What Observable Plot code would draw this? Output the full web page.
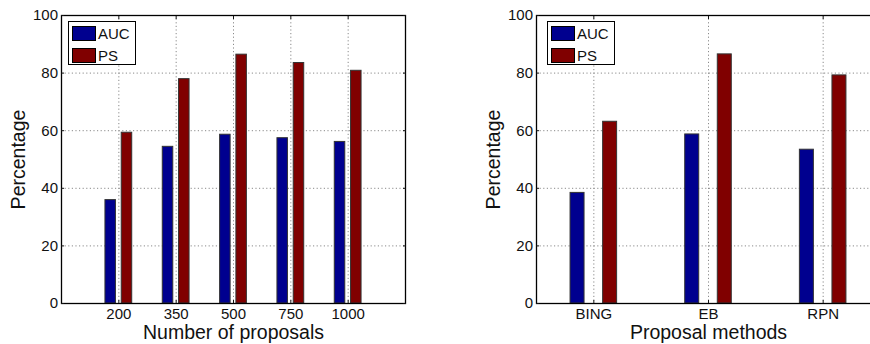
<!DOCTYPE html>
<html>
<head>
<meta charset="utf-8">
<script src="https://cdn.jsdelivr.net/npm/d3@7"></script>
<script src="https://cdn.jsdelivr.net/npm/@observablehq/plot@0.6"></script>
<style>
  html, body { margin: 0; padding: 0; background: #fff; }
  #wrap { position: relative; width: 870px; height: 344px; overflow: hidden; font-family: "Liberation Sans", Arial, Helvetica, sans-serif; }
  .panel { position: absolute; top: 0; }
  .legend { position: absolute; border: 1.2px solid #000; background: #fff; box-sizing: border-box; font-size: 15px; color: #111; }
  .legend .row { position: absolute; left: 3px; height: 15px; display: flex; align-items: center; }
  .legend .sw { width: 22px; height: 13px; border: 1px solid #000; margin-right: 2px; }
</style>
</head>
<body>
<div id="wrap"></div>
<script>
// ---- data ----
const seriesNames = ["AUC", "PS"];
const seriesColors = ["#00008F", "#800000"];

const proposalCounts = ["200", "350", "500", "750", "1000"];
const aucByCount = [35.9, 54.4, 58.6, 57.4, 56.1];
const psByCount = [59.3, 77.9, 86.4, 83.5, 80.8];

const methods = ["BING", "EB", "RPN"];
const aucByMethod = [38.4, 58.7, 53.4];
const psByMethod = [63.1, 86.5, 79.2];

const yTicks = [0, 20, 40, 60, 80, 100];

function makePanel(cfg) {
  const idx = cfg.cats.map((_, i) => i + 1);
  const rows = [];
  cfg.cats.forEach((c, i) => {
    rows.push({i: i + 1, s: 0, v: cfg.auc[i]});
    rows.push({i: i + 1, s: 1, v: cfg.ps[i]});
  });
  const off = cfg.offset, hw = cfg.barWidth / 2;
  const font = "Liberation Sans, Arial, Helvetica, sans-serif";
  return Plot.plot({
    width: cfg.width,
    height: 344,
    marginLeft: cfg.ml,
    marginRight: cfg.mr,
    marginTop: 15,
    marginBottom: 41,
    style: {fontFamily: font, color: "#111", background: "transparent", overflow: "visible"},
    x: {type: "linear", domain: cfg.xDomain},
    y: {domain: [0, 100]},
    color: {domain: [0, 1], range: seriesColors},
    marks: [
      Plot.ruleX(idx, {x: d => d, stroke: "#8a8a8a", strokeWidth: 1, strokeDasharray: "1.2,2.4"}),
      Plot.ruleY([20, 40, 60, 80], {y: d => d, stroke: "#8a8a8a", strokeWidth: 1, strokeDasharray: "1.2,2.4"}),
      Plot.rectY(rows, {
        x1: d => d.i + (d.s === 0 ? -off : off) - hw,
        x2: d => d.i + (d.s === 0 ? -off : off) + hw,
        y1: 0, y2: "v",
        fill: d => d.s,
        stroke: "#333", strokeWidth: 1
      }),
      Plot.frame({stroke: "#000", strokeWidth: 1.3}),
      Plot.axisX(idx, {anchor: "bottom", tickSize: 0, tickPadding: 5, fontSize: 15,
        tickFormat: i => cfg.cats[i - 1], label: null}),
      Plot.axisX(idx, {anchor: "bottom", tickSize: -3, text: null, label: null}),
      Plot.axisX(idx, {anchor: "top", tickSize: -3, text: null, label: null}),
      Plot.axisY(yTicks, {anchor: "left", tickSize: 0, tickPadding: 3.5, fontSize: 15, label: null}),
      Plot.axisY(yTicks, {anchor: "left", tickSize: -3, text: null, label: null}),
      Plot.axisY(yTicks, {anchor: "right", tickSize: -3, text: null, label: null}),
      Plot.text([cfg.xlabel], {frameAnchor: "bottom", textAnchor: "middle", dy: 22, lineAnchor: "top", fontSize: 19.5, fill: "#111"}),
      Plot.text(["Percentage"], {frameAnchor: "left", textAnchor: "middle", lineAnchor: "middle", rotate: -90, dx: -43, fontSize: 19.5, fill: "#111"})
    ]
  });
}

function addLegend(wrap, left, top) {
  const lg = document.createElement("div");
  lg.className = "legend";
  lg.style.left = left + "px";
  lg.style.top = top + "px";
  lg.style.width = "68px";
  lg.style.height = "44px";
  seriesNames.forEach((name, k) => {
    const row = document.createElement("div");
    row.className = "row";
    row.style.top = (4 + k * 21.5) + "px";
    const sw = document.createElement("div");
    sw.className = "sw";
    sw.style.background = seriesColors[k];
    const t = document.createElement("span");
    t.textContent = name;
    row.appendChild(sw);
    row.appendChild(t);
    lg.appendChild(row);
  });
  wrap.appendChild(lg);
}

const wrap = document.getElementById("wrap");

const left = makePanel({
  cats: proposalCounts, auc: aucByCount, ps: psByCount,
  xDomain: [0, 6], width: 435, ml: 61, mr: 30,
  offset: 0.142, barWidth: 0.183, xlabel: "Number of proposals"
});
left.classList.add("panel");
left.style.left = "0px";
wrap.appendChild(left);

const right = makePanel({
  cats: methods, auc: aucByMethod, ps: psByMethod,
  xDomain: [0.5, 3.5], width: 445, ml: 101, mr: 0,
  offset: 0.142, barWidth: 0.122, xlabel: "Proposal methods"
});
right.classList.add("panel");
right.style.left = "435px";
wrap.appendChild(right);

addLegend(wrap, 68, 21);
addLegend(wrap, 547, 21);
</script>
</body>
</html>
